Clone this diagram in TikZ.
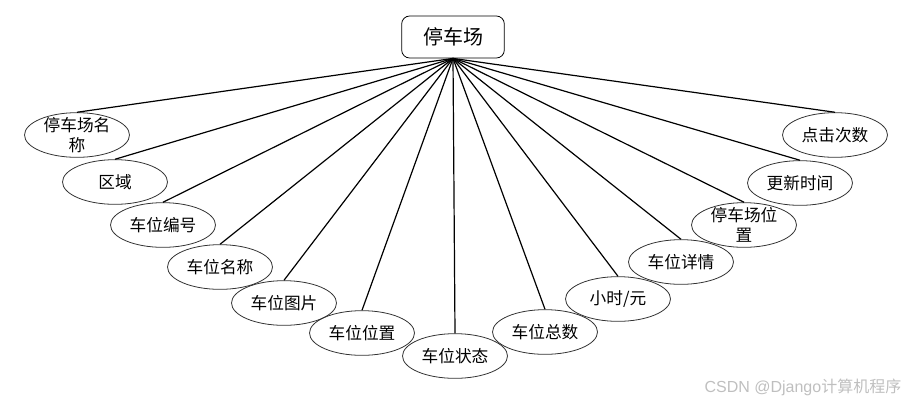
\documentclass[tikz,border=0pt]{standalone}
\usepackage{fontspec}
\setmainfont{Noto Sans CJK SC}
\newfontfamily\wmfont{Liberation Sans}
\usetikzlibrary{shapes.geometric}

\begin{document}
\begin{tikzpicture}[x=0.75pt,y=-0.75pt,
  attr/.style={ellipse,draw=black!80,line width=0.6pt,minimum width=78.75pt,minimum height=33.5pt,inner sep=0pt},
  attrtext/.style={align=center,font=\fontsize{12.5}{15.5}\selectfont},
  link/.style={line width=0.9pt}]
  \useasboundingbox (0,0) rectangle (920,404);
  % entity
  \node[draw,line width=0.6pt,rounded corners=6pt,minimum width=77pt,minimum height=31.5pt,font=\fontsize{15}{18}\selectfont] (park) at (453,37) {停车场};
  % attributes
  \foreach \n/\x/\y/\t in {a/77/135/{停车场名\\称},b/115/182/区域,c/163/225/车位编号,d/220/267/车位名称,
      e/284/303/车位图片,f/362/333/车位位置,g/455/356/车位状态,h/545/332/车位总数,i/618/299/{小时/元},
      j/681/262/车位详情,k/744/225/{停车场位\\置},l/800/183/更新时间,m/835/135/点击次数}{
    \node[attr,label={[attrtext]center:\t}] (\n) at (\x,\y) {};
    \draw[link] (park.south) -- (\n.north);
  }
  \node[anchor=east,text=black!25,font=\fontsize{12}{14}\selectfont] (mark) at (906,387) {{\wmfont CSDN @Django}计算机程序};
\end{tikzpicture}
\end{document}
